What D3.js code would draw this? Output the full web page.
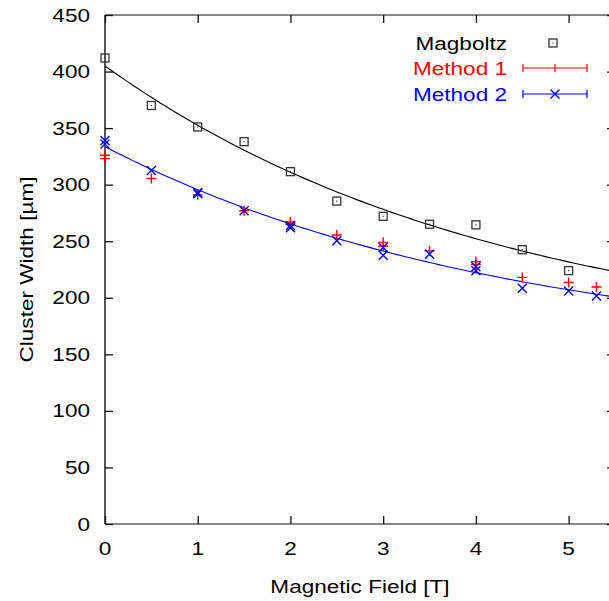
<!DOCTYPE html>
<html>
<head>
<meta charset="utf-8">
<script src="https://cdn.jsdelivr.net/npm/d3@7"></script>
<style>
  html, body { margin: 0; padding: 0; background: #fff; overflow: hidden; }
  svg { display: block; }
  text { font-family: "Liberation Sans", Arial, Helvetica, sans-serif; }
</style>
</head>
<body>
<svg id="chart" width="609" height="601"></svg>
<script>
// Magboltz simulation
const magboltzField = [0, 0.5, 1, 1.5, 2, 2.5, 3, 3.5, 4, 4.5, 5];
const magboltzWidth = [412, 370, 351, 338, 311.5, 285.5, 272, 265, 264.5, 242.5, 224];

// Method 1 measurements
const method1Field = [0, 0, 0.5, 1, 1.5, 2, 2, 2.5, 3, 3, 3.5, 4, 4, 4.5, 5, 5.3];
const method1Width = [326, 323, 305.5, 291, 277, 267, 265, 255.5, 249, 245.5, 241.5, 232, 229.5, 218, 213.5, 209.5];

// Method 2 measurements
const method2Field = [0, 0, 0.5, 1, 1, 1.5, 2, 2, 2.5, 3, 3, 3.5, 4, 4, 4.5, 5, 5.3];
const method2Width = [339, 336, 312.5, 293, 292, 277, 264, 262, 250.5, 244.5, 237.5, 238.5, 227.5, 224, 208.5, 206, 201.5];

// Exponential fits  w(B) = a * exp(-b * B) + c
const magboltzFit = [250.7, 0.235, 154.3];
const method2Fit = [185.2, 0.23, 148.4];

const xTicks = [0, 1, 2, 3, 4, 5];
const yTicks = [0, 50, 100, 150, 200, 250, 300, 350, 400, 450];
const legendLabels = ["Magboltz", "Method 1", "Method 2"];

const svg = d3.select("#chart");
const plotLeft = 105, plotRight = 615, plotTop = 15, plotBottom = 524;
const x = d3.scaleLinear().domain([0, 5.5]).range([plotLeft, plotRight]);
const y = d3.scaleLinear().domain([0, 450]).range([plotBottom, plotTop]);
const SX = 1.22;   // horizontal stretch of the lettering
const FS = 18.5;

function label(txt, px, py, anchor, color, rot) {
  return svg.append("text")
    .attr("transform", `translate(${px},${py})` + (rot ? ` rotate(${rot})` : "") + ` scale(${SX},1)`)
    .attr("text-anchor", anchor)
    .attr("font-size", FS)
    .attr("fill", color || "#000")
    .text(txt);
}

svg.append("defs").append("clipPath").attr("id", "plotClip")
  .append("rect").attr("x", plotLeft).attr("y", plotTop)
  .attr("width", plotRight - plotLeft).attr("height", plotBottom - plotTop);

// Frame
const frame = svg.append("g");
frame.append("line").attr("x1", plotLeft).attr("x2", plotRight).attr("y1", plotTop).attr("y2", plotTop).attr("stroke", "#111").attr("stroke-width", 1.2);
frame.append("line").attr("x1", plotLeft).attr("x2", plotRight).attr("y1", plotBottom).attr("y2", plotBottom).attr("stroke", "#111").attr("stroke-width", 1.2);
frame.append("line").attr("x1", plotRight).attr("x2", plotRight).attr("y1", plotTop).attr("y2", plotBottom).attr("stroke", "#111").attr("stroke-width", 1.2);
frame.append("line").attr("x1", plotLeft).attr("x2", plotLeft).attr("y1", plotTop).attr("y2", plotBottom).attr("stroke", "#555").attr("stroke-width", 2);

// Axes with inward ticks, mirrored on the opposite sides
const tickLen = 8;
const xAxisBottom = d3.axisBottom(x).tickValues(xTicks).tickSize(-tickLen).tickFormat("");
const xAxisTop = d3.axisTop(x).tickValues(xTicks).tickSize(-tickLen).tickFormat("");
const yAxisLeft = d3.axisLeft(y).tickValues(yTicks).tickSize(-tickLen).tickFormat("");
const yAxisRight = d3.axisRight(y).tickValues(yTicks).tickSize(-tickLen).tickFormat("");
function styleAxis(g) {
  g.select(".domain").remove();
  g.selectAll(".tick line").attr("stroke", "#111").attr("stroke-width", 1.3);
}
svg.append("g").attr("transform", `translate(0,${plotBottom})`).call(xAxisBottom).call(styleAxis);
svg.append("g").attr("transform", `translate(0,${plotTop})`).call(xAxisTop).call(styleAxis);
svg.append("g").attr("transform", `translate(${plotLeft},0)`).call(yAxisLeft).call(styleAxis);
svg.append("g").attr("transform", `translate(${plotRight},0)`).call(yAxisRight).call(styleAxis);

// Tick labels
xTicks.forEach(v => label(String(v), x(v), 555, "middle"));
yTicks.forEach(v => label(String(v), 90, y(v) + 6.6, "end"));

// Axis titles
label("Magnetic Field [T]", (plotLeft + plotRight) / 2, 593, "middle");
label("Cluster Width [µm]", 32.5, (plotTop + plotBottom) / 2, "middle", "#000", -90);

// Fit curves (clipped to the plot area)
const curves = svg.append("g").attr("clip-path", "url(#plotClip)");
const samples = d3.range(0, 5.5001, 0.05);
const fitLine = p => d3.line()
  .x(b => x(b))
  .y(b => y(p[0] * Math.exp(-p[1] * b) + p[2]))(samples);
curves.append("path").attr("d", fitLine(magboltzFit)).attr("fill", "none").attr("stroke", "#000").attr("stroke-width", 1.1);
curves.append("path").attr("d", fitLine(method2Fit)).attr("fill", "none").attr("stroke", "#00f").attr("stroke-width", 1.1);

// Marker shapes
function squareMark(g, cx, cy) {
  g.append("rect").attr("x", cx - 4).attr("y", cy - 4).attr("width", 8).attr("height", 8)
    .attr("fill", "none").attr("stroke", "#333").attr("stroke-width", 1.3);
  g.append("rect").attr("x", cx - 0.6).attr("y", cy - 0.6).attr("width", 1.2).attr("height", 1.2).attr("fill", "#333");
}
function plusMark(g, cx, cy, color) {
  g.append("path").attr("d", `M${cx - 5},${cy}H${cx + 5}M${cx},${cy - 5}V${cy + 5}`)
    .attr("stroke", color).attr("stroke-width", 1.4).attr("fill", "none");
}
function crossMark(g, cx, cy, color) {
  g.append("path").attr("d", `M${cx - 4.5},${cy - 4.5}L${cx + 4.5},${cy + 4.5}M${cx - 4.5},${cy + 4.5}L${cx + 4.5},${cy - 4.5}`)
    .attr("stroke", color).attr("stroke-width", 1.4).attr("fill", "none");
}

// Data points
const points = svg.append("g");
magboltzField.forEach((b, i) => squareMark(points, x(b), y(magboltzWidth[i])));
method1Field.forEach((b, i) => plusMark(points, x(b), y(method1Width[i]), "#f00"));
method2Field.forEach((b, i) => crossMark(points, x(b), y(method2Width[i]), "#00f"));

// Legend
const legRight = 507, rowY = [43, 68, 94], lx1 = 523, lx2 = 587, lmid = 555;
const legColors = ["#000", "#f00", "#00f"];
legendLabels.forEach((t, i) => label(t, legRight, rowY[i] + 6.6, "end", legColors[i]));
const leg = svg.append("g");
squareMark(leg, lmid - 2, rowY[0]);
[[1, "#f00"], [2, "#00f"]].forEach(([r, c]) => {
  const yy = rowY[r];
  leg.append("path").attr("d", `M${lx1},${yy}H${lx2}M${lx1},${yy - 4}V${yy + 4}M${lx2},${yy - 4}V${yy + 4}`)
    .attr("stroke", c).attr("stroke-width", 1.2).attr("fill", "none");
});
leg.append("path").attr("d", `M${lmid},${rowY[1] - 4}V${rowY[1] + 4}`).attr("stroke", "#f00").attr("stroke-width", 1.2);
crossMark(leg, lmid, rowY[2], "#00f");
</script>
</body>
</html>
